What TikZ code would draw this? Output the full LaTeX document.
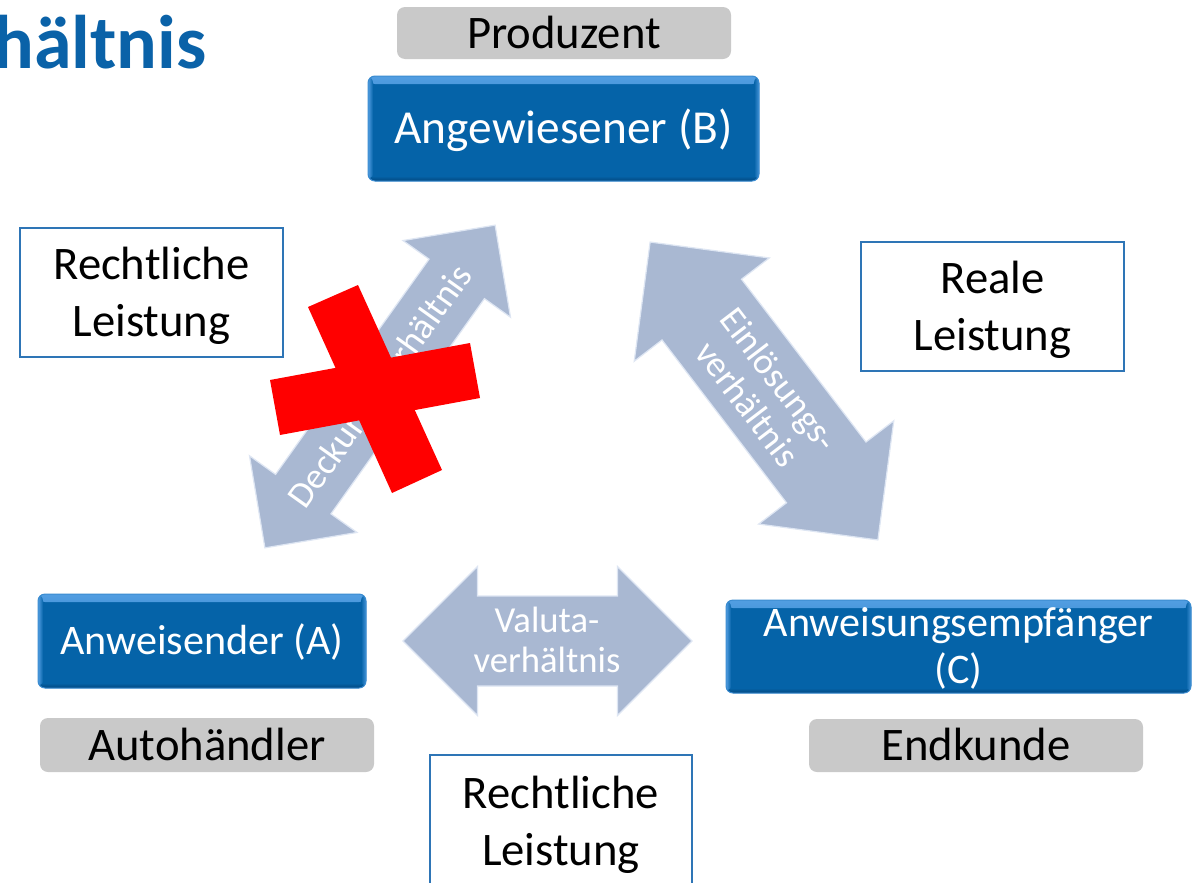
\documentclass[tikz,border=0pt]{standalone}
\usepackage{fontspec}
\setmainfont{Carlito}
\usetikzlibrary{calc}

% one unit = one pixel of the 1203 x 882 layout
\newlength\pxu
\setlength\pxu{0.75pt}

\definecolor{boxblue}{RGB}{5,99,168}
\definecolor{boxhi}{RGB}{82,158,226}
\definecolor{boxlo}{RGB}{3,72,128}
\definecolor{titleblue}{RGB}{10,98,168}
\definecolor{tagfill}{RGB}{201,201,201}
\definecolor{frameblue}{RGB}{46,117,182}
\definecolor{arrowfill}{RGB}{169,184,210}
\definecolor{arrowhi}{RGB}{222,230,243}
\definecolor{crossred}{RGB}{255,0,0}

\newcommand\bigfont{\fontsize{35}{42.75}\selectfont}
\newcommand\headfont{\fontsize{35.5}{42.75}\selectfont}
\newcommand\boxfont{\fontsize{31.6}{35.25}\selectfont}
\newcommand\arrowfont{\fontsize{27.5}{30}\selectfont}

% double-headed block arrow: centre x, centre y, angle, half length, shaft half width, head half width
\newcommand\relarrow[6]{%
  \begin{scope}[shift={(#1,#2)}, rotate=#3]
    \fill[arrowfill, draw=arrowhi, line width=1.2\pxu, line join=miter]
      (-#4,0) -- ({-#4+#6},-#6) -- ({-#4+#6},-#5) -- ({#4-#6},-#5) -- ({#4-#6},-#6)
      -- (#4,0) -- ({#4-#6},#6) -- ({#4-#6},#5) -- ({-#4+#6},#5) -- ({-#4+#6},#6) -- cycle;
  \end{scope}}

\tikzset{
  bluebox/.style={rounded corners=7\pxu, fill=boxblue, draw=boxhi!70!boxblue,
    line width=1\pxu, text=white, inner sep=0pt, align=center,
    path picture={
      \shade[top color=boxhi, bottom color=boxblue]
        (path picture bounding box.north west) rectangle ([yshift=-8\pxu]path picture bounding box.north east);
      \shade[left color=boxhi, right color=boxblue]
        (path picture bounding box.north west) rectangle ([xshift=5\pxu]path picture bounding box.south west);
      \shade[left color=boxblue, right color=boxhi!80!boxblue]
        ([xshift=-5\pxu]path picture bounding box.north east) rectangle (path picture bounding box.south east);
      \shade[top color=boxblue, bottom color=boxlo]
        ([yshift=5\pxu]path picture bounding box.south west) rectangle (path picture bounding box.south east);
    }},
  tagbox/.style={rounded corners=8\pxu, fill=tagfill, text=black, inner sep=0pt,
    font=\bigfont, text height=22.5pt, text depth=0pt},
  % two-line frames: height above the last baseline = cap height + one line
  framebox/.style={draw=frameblue, line width=2.5\pxu, fill=white, inner sep=0pt,
    align=center, font=\bigfont, text height=65.25pt, text depth=0pt},
  arrowtext/.style={text=white, font=\arrowfont, align=center, inner sep=0pt,
    text height=17.7pt, text depth=0pt},
  arrowtexttwo/.style={arrowtext, text height=47.7pt}
}

\begin{document}
\begin{tikzpicture}[x=0.75pt, y=-0.75pt]
  \useasboundingbox[fill=white] (0,0) rectangle (1203,882);

  % heading, cut at the left edge
  \node[anchor=base west, inner sep=0pt, text=titleblue,
        font=\fontsize{57}{62}\selectfont\bfseries] (title) at (-7,68) {hältnis};

  % the three relations
  \relarrow{380}{386.5}{54.5}{198.2}{34}{66}
  \relarrow{764}{391}{-52.6}{187.5}{50}{85}
  \relarrow{547.5}{641}{0}{144.5}{45}{74.5}

  \node[arrowtext, rotate=54.5] (deckung) at (380,386.5) {Deckungsverhältnis};
  \node[arrowtexttwo, rotate=-52.6] (einloesung) at (763,392) {Einlösungs-\\verhältnis};
  \node[arrowtexttwo] (valuta) at (547,640.2) {Valuta-\\verhältnis};

  % crossed out
  \fill[crossred] (308,307) -- (358,285) -- (442,470) -- (392,493) -- cycle;
  \fill[crossred] (270,380) -- (470,343) -- (480,398) -- (280,435) -- cycle;

  % parties
  \node[bluebox, font=\headfont, text height=22.9pt, text depth=0pt,
        minimum width=391\pxu, minimum height=105\pxu] (angB) at (563.5,128.5) {Angewiesener (B)};
  \node[bluebox, font=\boxfont, text height=20.35pt, text depth=0pt,
        minimum width=328\pxu, minimum height=94\pxu] (anwA) at (202,641) {Anweisender (A)};
  \node[bluebox, font=\boxfont, text height=55.6pt, text depth=0pt,
        minimum width=465\pxu, minimum height=93\pxu] (empfC) at (958.5,646.5) {Anweisungsempfänger\\(C)};

  % roles
  \node[tagbox, minimum width=334\pxu, minimum height=52\pxu] (prod) at (564,33) {Produzent};
  \node[tagbox, minimum width=334\pxu, minimum height=54\pxu] (auto) at (207,745) {Autohändler};
  \node[tagbox, minimum width=334\pxu, minimum height=53\pxu] (endk) at (976,745.5) {Endkunde};

  % kinds of performance
  \node[framebox, minimum width=263\pxu, minimum height=129\pxu] (rlLeft) at (151.5,292.5) {Rechtliche\\Leistung};
  \node[framebox, minimum width=263\pxu, minimum height=129\pxu] (reale) at (992.5,306.5) {Reale\\Leistung};
  \node[framebox, minimum width=262\pxu, minimum height=133\pxu] (rlBottom) at (561,821.5) {Rechtliche\\Leistung};
\end{tikzpicture}
\end{document}
